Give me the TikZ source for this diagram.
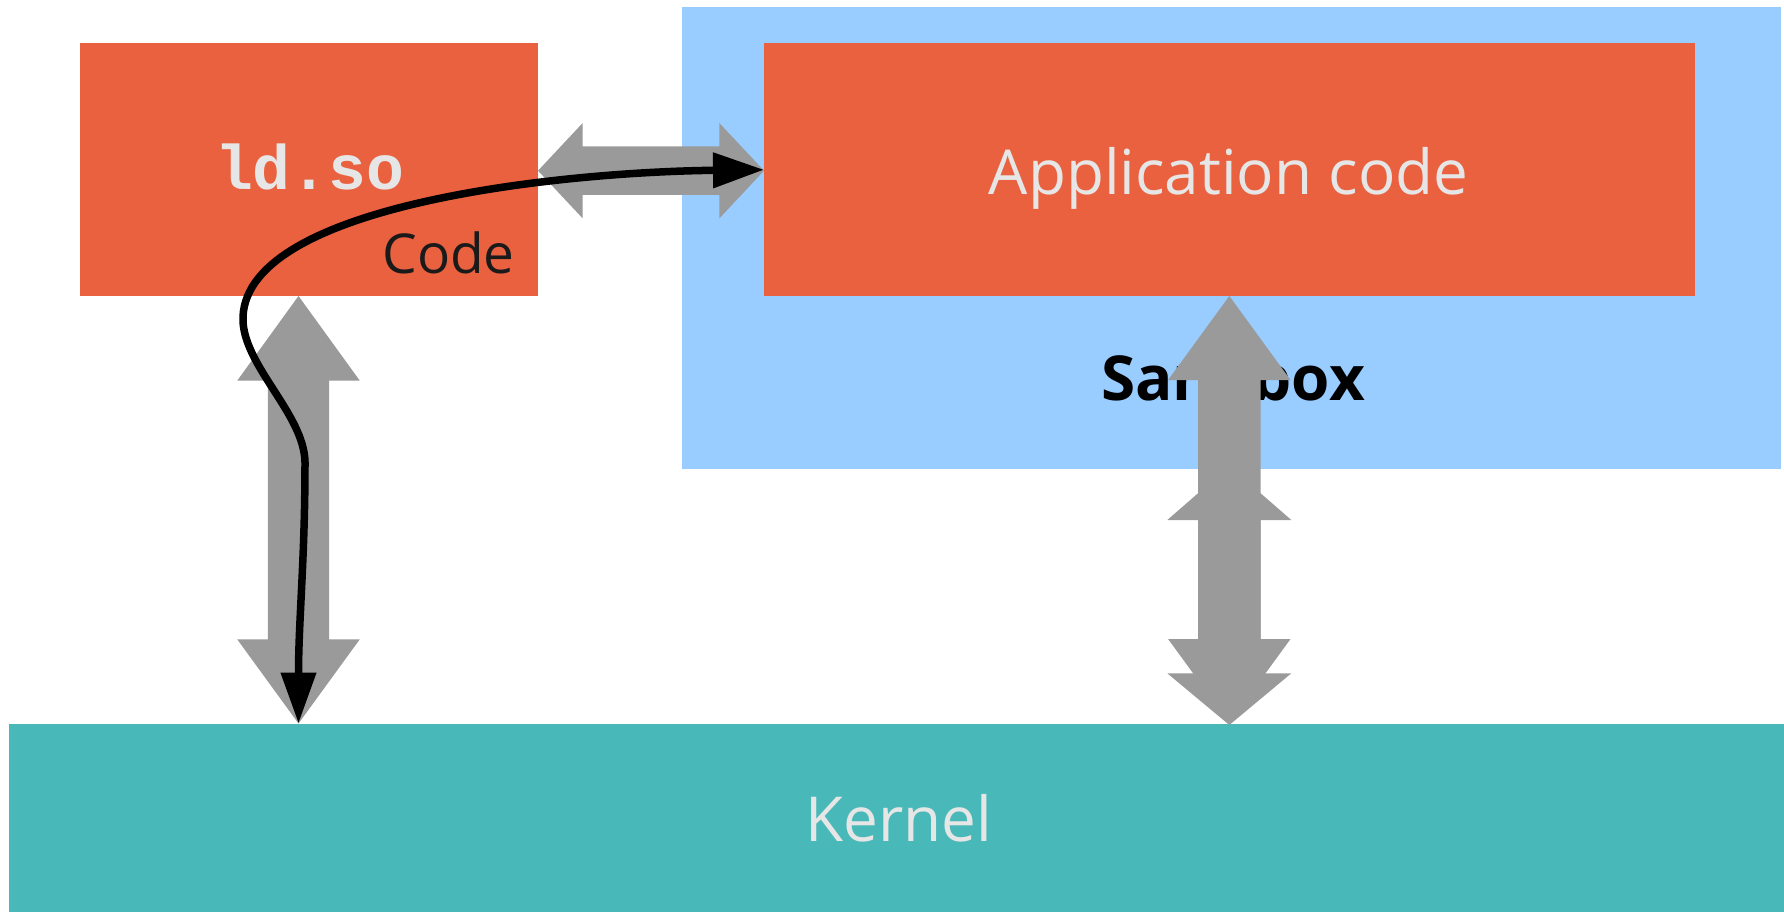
\documentclass[tikz,border=0pt]{standalone}
\usepackage{fontspec}
\setmainfont{Open Sans}
\newfontfamily\ldfont{Liberation Mono}
\usetikzlibrary{arrows.meta}

\definecolor{boxorange}{HTML}{EA6140}
\definecolor{sandblue}{HTML}{99CCFF}
\definecolor{kernelteal}{HTML}{48B8B8}
\definecolor{arrowgray}{HTML}{9A9A9A}
\definecolor{lighttxt}{HTML}{E6E6E6}
\definecolor{darktxt}{HTML}{1A1A1A}

\begin{document}
\begin{tikzpicture}[x=1pt,y=-1pt,
  block/.style={fill=#1, draw=none, inner sep=0pt, outer sep=0pt, anchor=north west},
  lightlabel/.style={text=lighttxt, inner sep=0pt, font=\fontsize{62}{70}\selectfont},
  flow/.style={draw=black, line width=7.5pt,
    {Triangle[length=51pt,width=34pt]}-{Triangle[length=51pt,width=34pt]}},
  graybar/.style={fill=arrowgray}]
\useasboundingbox (0,0) rectangle (1784,912);

% regions
\node[block=sandblue, minimum width=1099pt, minimum height=462pt] (sandbox) at (682,7) {};
\node[block=boxorange, minimum width=458pt, minimum height=252.5pt] (ldbox) at (80,43.5) {};
\node[block=boxorange, minimum width=931pt, minimum height=252.5pt] (appbox) at (764,43.5) {};
\node[block=kernelteal, minimum width=1775pt, minimum height=188pt] (kernel) at (9,724) {};

% labels
\node[lightlabel, anchor=base] (apptext) at (1228.5,194) {Application code};
\node[lightlabel, anchor=base] (kerneltext) at (899,841.7) {Kernel};
\node[text=black, inner sep=0pt, anchor=base, font=\fontsize{62}{70}\selectfont\bfseries] (sandtext) at (1233,400) {Sandbox};
\node[text=lighttxt, inner sep=0pt, anchor=base, font=\fontsize{63}{70}\selectfont\ldfont\bfseries] (ldtext) at (309.7,189.3) {ld.so};
\node[text=darktxt, inner sep=0pt, anchor=base east, font=\fontsize{55}{62}\selectfont] (codetext) at (515,273.3) {Code};

% ld.so <-> application code
\fill[graybar] (538,170.7) -- (582.7,123) -- (582.7,146.5) -- (719.3,146.5) -- (719.3,123)
  -- (764,170.7) -- (719.3,218.4) -- (719.3,194.9) -- (582.7,194.9) -- (582.7,218.4) -- cycle;

% ld.so <-> kernel
\fill[graybar] (298.5,296) -- (359.8,380.7) -- (329.2,380.7) -- (329.2,639.3) -- (359.8,639.3)
  -- (298.5,723.5) -- (237.2,639.3) -- (267.8,639.3) -- (267.8,380.7) -- (237.2,380.7) -- cycle;

% application code <-> kernel (two stacked double arrows)
\fill[graybar] (1229.3,296) -- (1290.5,380) -- (1260.5,380) -- (1260.5,639) -- (1290.5,639)
  -- (1229.3,723) -- (1168.1,639) -- (1198.1,639) -- (1198.1,380) -- (1168.1,380) -- cycle;
\fill[graybar] (1229.3,466) -- (1291.3,520) -- (1260.5,520) -- (1260.5,673.3) -- (1291.3,673.3)
  -- (1229.3,725) -- (1167.3,673.3) -- (1198.1,673.3) -- (1198.1,520) -- (1167.3,520) -- cycle;

% call path through the loader
\coordinate (kerneltip) at (298.5,723.5);
\draw[flow] (appbox.west) .. controls (560,172) and (238,205) .. (243,322)
  .. controls (246,368) and (304,415) .. (305,462)
  .. controls (305,560) and (298.5,620) .. (kerneltip);
\end{tikzpicture}
\end{document}
